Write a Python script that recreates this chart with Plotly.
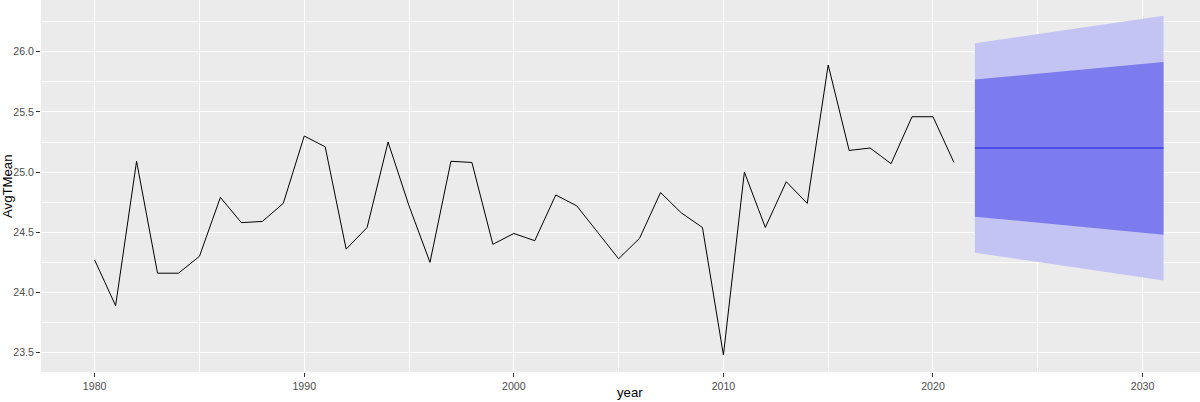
import plotly.graph_objects as go

years = list(range(1980, 2022))
avg_t_mean = [24.27, 23.89, 25.09, 24.16, 24.16, 24.30, 24.79, 24.58, 24.59, 24.74,
              25.30, 25.21, 24.36, 24.54, 25.25, 24.72, 24.25, 25.09, 25.08, 24.40,
              24.49, 24.43, 24.81, 24.72, 24.50, 24.28, 24.45, 24.83, 24.66, 24.54,
              23.48, 25.00, 24.54, 24.92, 24.74, 25.89, 25.18, 25.20, 25.07, 25.46,
              25.46, 25.08]

fc_years = list(range(2022, 2032))
fc_mean = [25.20] * 10
hi95 = [26.070, 26.096, 26.121, 26.147, 26.172, 26.198, 26.223, 26.249, 26.274, 26.300]
hi80 = [25.770, 25.786, 25.802, 25.818, 25.834, 25.851, 25.867, 25.883, 25.899, 25.915]
lo80 = [24.630, 24.613, 24.597, 24.580, 24.563, 24.547, 24.530, 24.513, 24.497, 24.480]
lo95 = [24.330, 24.304, 24.279, 24.253, 24.228, 24.202, 24.177, 24.151, 24.126, 24.100]

x_ticks = [1980, 1990, 2000, 2010, 2020, 2030]
y_ticks = [23.5, 24.0, 24.5, 25.0, 25.5, 26.0]

LIGHT = "#C4C4F4"
DARK = "#7C7CEE"
MEANC = "#3B3BE2"
FONT = "Liberation Sans, Arial, sans-serif"

fig = go.Figure()

# 95% band
fig.add_trace(go.Scatter(x=fc_years + fc_years[::-1], y=hi95 + lo95[::-1],
                         fill="toself", fillcolor=LIGHT, line=dict(width=0),
                         mode="lines", showlegend=False, hoverinfo="skip"))
# 80% band
fig.add_trace(go.Scatter(x=fc_years + fc_years[::-1], y=hi80 + lo80[::-1],
                         fill="toself", fillcolor=DARK, line=dict(width=0),
                         mode="lines", showlegend=False, hoverinfo="skip"))
# forecast mean
fig.add_trace(go.Scatter(x=fc_years, y=fc_mean, mode="lines",
                         line=dict(color=MEANC, width=1.6), showlegend=False))
# observed series
fig.add_trace(go.Scatter(x=years, y=avg_t_mean, mode="lines",
                         line=dict(color="black", width=1), showlegend=False))

axis_common = dict(
    showgrid=True, gridcolor="white", gridwidth=1.3,
    zeroline=False, showline=False, automargin=False,
    ticks="outside", ticklen=4, tickwidth=1, tickcolor="#333333",
    tickfont=dict(family=FONT, size=10.6, color="#4D4D4D"),
)

fig.update_layout(
    width=1200, height=402,
    margin=dict(l=41, r=0, t=0, b=30),
    paper_bgcolor="white", plot_bgcolor="#EBEBEB",
    xaxis=dict(range=[1977.44, 2032.74], tickvals=x_ticks,
               ticktext=[str(v) for v in x_ticks],
               minor=dict(dtick=5, tick0=1980, showgrid=True, gridcolor="white",
                          gridwidth=0.6, ticklen=0),
               **axis_common),
    yaxis=dict(range=[23.339, 26.43], tickvals=y_ticks,
               ticktext=[f"{v:.1f}" for v in y_ticks],
               minor=dict(dtick=0.25, tick0=23.5, showgrid=True, gridcolor="white",
                          gridwidth=0.6, ticklen=0),
               **axis_common),
    annotations=[
        dict(text="AvgTMean", xref="paper", yref="paper", x=0, y=0.5,
             xanchor="center", yanchor="middle", xshift=-34, textangle=-90,
             showarrow=False,
             font=dict(family=FONT, size=13.2, color="black")),
        dict(text="year", xref="paper", yref="paper", x=0, y=0,
             xanchor="center", yanchor="bottom", xshift=589, yshift=-30,
             showarrow=False,
             font=dict(family=FONT, size=13.2, color="black")),
    ],
)

fig.write_html("out.html",
               config={"displayModeBar": False},
               post_script="document.body.style.margin='0';document.body.style.overflow='hidden';")
